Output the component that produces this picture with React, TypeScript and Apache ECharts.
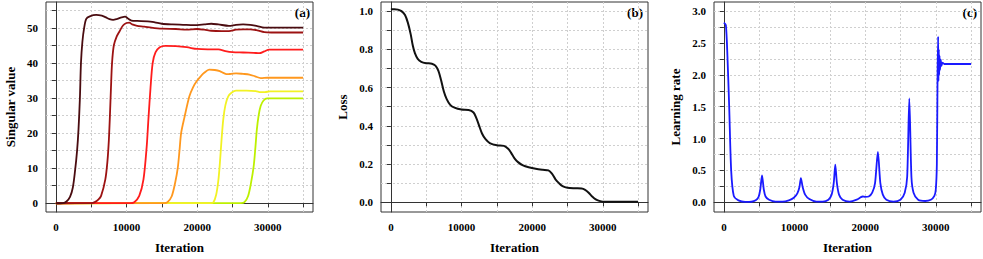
import { useEffect, useRef } from "react";
import * as echarts from "echarts";

// ---------- tick values ----------
const iterLabelTicks = [0, 10000, 20000, 30000];
const iterAllTicks = [0, 5000, 10000, 15000, 20000, 25000, 30000, 35000];
const svLabelTicks = [0, 10, 20, 30, 40, 50];
const svAllTicks = [0, 5, 10, 15, 20, 25, 30, 35, 40, 45, 50, 55];
const lossLabelTicks = [0, 0.2, 0.4, 0.6, 0.8, 1.0];
const lossAllTicks = [0, 0.1, 0.2, 0.3, 0.4, 0.5, 0.6, 0.7, 0.8, 0.9, 1.0];
const lrLabelTicks = [0, 0.5, 1.0, 1.5, 2.0, 2.5, 3.0];
const lrAllTicks = [0, 0.25, 0.5, 0.75, 1.0, 1.25, 1.5, 1.75, 2.0, 2.25, 2.5, 2.75, 3.0];

// ---------- (a) singular values ----------
const sv1 = [
  [0, 0], [1000, 0.05], [1500, 0.5], [2000, 1.8], [2400, 4.5], [2700, 9], [3000, 15], [3200, 21],
  [3400, 30], [3550, 40], [3750, 46], [4000, 50], [4300, 52.6], [4800, 53.3], [5700, 53.7],
  [6500, 53.5], [7000, 53.1], [7600, 52.5], [8100, 52.3], [8700, 52.6], [9300, 53], [9800, 53.2],
  [10200, 52.7], [10700, 52.1], [11500, 52], [13000, 51.9], [14000, 51.6], [15000, 51.2],
  [16500, 51], [18000, 50.9], [19500, 50.8], [21000, 51], [22000, 51.2], [23000, 51.0],
  [24500, 50.6], [25500, 50.9], [26500, 51.0], [27500, 50.9], [28500, 50.5], [29500, 50.1],
  [30500, 50.1], [35000, 50.1],
];
const sv2 = [
  [0, 0], [5000, 0.02], [5500, 0.3], [6000, 1], [6400, 2.1], [7000, 6.8], [7300, 12], [7500, 18],
  [7650, 25], [7800, 33], [7950, 40], [8200, 45], [8600, 47.5], [9000, 49], [9500, 50.7],
  [10000, 51.4], [10400, 51.5], [10800, 51], [11500, 50.6], [12500, 50.4], [13500, 50.1],
  [15000, 49.8], [17000, 49.7], [18500, 49.5], [20000, 49.7], [21000, 49.5], [22000, 49.2],
  [23500, 49.1], [24500, 49.1], [25500, 49.5], [26500, 49.6], [27500, 49.6], [28500, 49.3],
  [29500, 48.8], [30500, 48.7], [35000, 48.7],
];
const sv3 = [
  [0, 0], [10500, 0.02], [11100, 0.3], [11800, 2.1], [12400, 6.8], [12850, 16], [13100, 24],
  [13400, 33], [13700, 40], [14100, 43], [14700, 44.5], [15500, 44.9], [17000, 44.8],
  [18500, 44.5], [20000, 44], [21500, 43.9], [23000, 43.9], [24000, 43.4], [25000, 43.1],
  [26500, 43], [28000, 42.9], [28800, 42.8], [29500, 43.3], [30200, 43.8], [35000, 43.8],
];
const sv4 = [
  [0, 0], [15300, 0.02], [15800, 0.3], [16400, 2], [16900, 6], [17250, 10], [17500, 15],
  [17730, 20], [18200, 24.5], [18900, 30.5], [19400, 33], [19900, 34.7], [20500, 36.2],
  [21000, 37.2], [21700, 38.1], [22500, 38], [23200, 37.7], [23800, 37.1], [24300, 36.8],
  [24800, 36.9], [25500, 37.05], [26500, 36.9], [27400, 36.7], [28200, 36.2], [29000, 35.7],
  [30000, 35.8], [35000, 35.8],
];
const sv5 = [
  [0, 0], [21800, 0.02], [22300, 0.3], [22700, 2.5], [23000, 6.5], [23200, 11], [23450, 18],
  [23700, 24], [24000, 28], [24400, 30.5], [24900, 31.6], [25500, 32.1], [27000, 32.1],
  [28300, 32], [29000, 31.7], [29600, 31.7], [30300, 31.9], [35000, 31.9],
];
const sv6 = [
  [0, 0], [26200, 0.02], [26700, 0.3], [27200, 2], [27600, 5.5], [28000, 10.5], [28250, 16],
  [28450, 21], [28700, 25], [29000, 27.8], [29400, 29.3], [29900, 29.9], [35000, 29.9],
];
const svSeries = [sv1, sv2, sv3, sv4, sv5, sv6];
const svColors = ["#4a0c10", "#9c1212", "#ff1c1c", "#ff981e", "#f2f224", "#bdf000"];

// ---------- (b) loss ----------
const loss = [
  [0, 1.01], [500, 1.01], [1000, 1.008], [1500, 1.0], [2000, 0.98], [2400, 0.94], [2800, 0.88],
  [3100, 0.82], [3400, 0.78], [3800, 0.75], [4300, 0.735], [5000, 0.728], [5800, 0.725],
  [6300, 0.715], [6700, 0.69], [7100, 0.64], [7500, 0.58], [7900, 0.54], [8400, 0.51],
  [9000, 0.495], [10000, 0.485], [11000, 0.483], [11700, 0.47], [12100, 0.44], [12500, 0.4],
  [12900, 0.36], [13400, 0.33], [14000, 0.31], [15000, 0.298], [16000, 0.295], [16600, 0.28],
  [17000, 0.26], [17500, 0.23], [18000, 0.21], [18700, 0.193], [19500, 0.183], [20500, 0.175],
  [21500, 0.17], [22300, 0.167], [22800, 0.15], [23300, 0.12], [23800, 0.1], [24300, 0.085],
  [25000, 0.076], [26000, 0.073], [27000, 0.072], [27500, 0.065], [28000, 0.05], [28500, 0.03],
  [29000, 0.015], [29500, 0.007], [30000, 0.003], [35000, 0.003],
];

// ---------- (c) learning rate ----------
const lr = [
  [0, 2.82], [280, 2.78], [500, 2.3], [750, 1.5], [1030, 0.5], [1400, 0.1], [2060, 0.03],
  [3000, 0.005], [3900, 0.008], [4500, 0.03], [4900, 0.08], [5150, 0.2], [5400, 0.42],
  [5650, 0.2], [5900, 0.09], [6400, 0.04], [7300, 0.01], [8300, 0.01], [9200, 0.03],
  [9900, 0.07], [10400, 0.14], [10700, 0.24], [10900, 0.38], [11150, 0.24], [11500, 0.12],
  [12100, 0.05], [13100, 0.01], [14000, 0.01], [14800, 0.04], [15250, 0.12], [15550, 0.3],
  [15770, 0.59], [16000, 0.3], [16300, 0.12], [16800, 0.04], [17800, 0.01], [18800, 0.04],
  [19400, 0.08], [19650, 0.09], [20000, 0.085], [20500, 0.09], [21000, 0.15], [21400, 0.3],
  [21800, 0.79], [22150, 0.3], [22500, 0.12], [23000, 0.04], [24000, 0.01], [25000, 0.04],
  [25600, 0.15], [25950, 0.4], [26250, 1.63], [26550, 0.4], [26850, 0.15], [27500, 0.04],
  [28500, 0.02], [29300, 0.04], [29800, 0.1], [30000, 0.2], [30150, 0.6], [30250, 2.0],
  [30330, 2.6], [30380, 1.9], [30430, 2.4], [30480, 2.0], [30530, 2.3], [30600, 2.08],
  [30700, 2.24], [30800, 2.14], [30950, 2.19], [31200, 2.17], [35000, 2.17],
];

const FONT = '"Liberation Serif", "Times New Roman", serif';
const AXIS_COLOR = "#333";

function xAxisFor(gridIndex: number) {
  return {
    type: "value",
    gridIndex,
    min: -1400,
    max: 36400,
    axisLine: { show: true, lineStyle: { color: AXIS_COLOR, width: 1 } },
    axisTick: { show: true, inside: false, length: 4, customValues: iterAllTicks, lineStyle: { color: AXIS_COLOR } },
    axisLabel: {
      customValues: iterLabelTicks,
      formatter: (v: number) => String(v),
      color: "#000",
      fontFamily: FONT,
      fontWeight: "bold",
      fontSize: 11,
      margin: 9,
    },
    splitLine: { show: true, lineStyle: { color: "#cfcfcf", type: [2, 2], width: 1 } },
    name: "Iteration",
    nameLocation: "middle",
    nameGap: 29,
    nameTextStyle: { color: "#000", fontFamily: FONT, fontWeight: "bold", fontSize: 13 },
  };
}

function yAxisFor(gridIndex: number, min: number, max: number, all: number[], labels: number[], digits: number, name: string, nameGap: number) {
  return {
    type: "value",
    gridIndex,
    min,
    max,
    axisLine: { show: true, lineStyle: { color: AXIS_COLOR, width: 1 } },
    axisTick: { show: true, inside: false, length: 4, customValues: all, lineStyle: { color: AXIS_COLOR } },
    axisLabel: {
      customValues: labels,
      formatter: (v: number) => v.toFixed(digits),
      color: "#000",
      fontFamily: FONT,
      fontWeight: "bold",
      fontSize: 11,
      margin: 8,
    },
    splitLine: { show: true, lineStyle: { color: "#cfcfcf", type: [2, 2], width: 1 } },
    name,
    nameLocation: "middle",
    nameGap,
    nameTextStyle: { color: "#000", fontFamily: FONT, fontWeight: "bold", fontSize: 13 },
  };
}

export default function App() {
  const ref = useRef<HTMLDivElement>(null);
  useEffect(() => {
    if (!ref.current) return;
    const chart = echarts.init(ref.current, null, { renderer: "svg" });
    const gridBase = { top: 2, height: 215, width: 267, show: true, borderColor: AXIS_COLOR, borderWidth: 1, backgroundColor: "transparent", containLabel: false };
    const svSeriesOpts = svSeries
      .map((d, i) => ({
        type: "line",
        xAxisIndex: 0,
        yAxisIndex: 0,
        data: d,
        showSymbol: false,
        smooth: 0.3,
        lineStyle: { color: svColors[i], width: 1.8 },
        z: 10 - i,
      }))
      .reverse();
    chart.setOption({
      animation: false,
      backgroundColor: "#fff",
      grid: [
        { ...gridBase, left: 46 },
        { ...gridBase, left: 381 },
        { ...gridBase, left: 714 },
      ],
      xAxis: [xAxisFor(0), xAxisFor(1), xAxisFor(2)],
      yAxis: [
        yAxisFor(0, -2.5, 57.4, svAllTicks, svLabelTicks, 0, "Singular value", 29.5),
        yAxisFor(1, -0.051, 1.048, lossAllTicks, lossLabelTicks, 1, "Loss", 32.5),
        yAxisFor(2, -0.153, 3.143, lrAllTicks, lrLabelTicks, 1, "Learning rate", 32.5),
      ],
      series: [
        ...svSeriesOpts,
        {
          type: "line",
          xAxisIndex: 1,
          yAxisIndex: 1,
          data: loss,
          showSymbol: false,
          smooth: 0.3,
          lineStyle: { color: "#111", width: 2 },
        },
        {
          type: "line",
          xAxisIndex: 2,
          yAxisIndex: 2,
          data: lr,
          showSymbol: false,
          smooth: 0.25,
          lineStyle: { color: "#1a1aff", width: 1.8 },
        },
      ],
      graphic: [
        { type: "text", right: 983 - 310, top: 6, style: { text: "(a)", fill: "#000", font: `bold 13px ${FONT}` } },
        { type: "text", right: 983 - 643, top: 6, style: { text: "(b)", fill: "#000", font: `bold 13px ${FONT}` } },
        { type: "text", right: 983 - 977, top: 6, style: { text: "(c)", fill: "#000", font: `bold 13px ${FONT}` } },
      ],
    });
    return () => chart.dispose();
  }, []);
  return <div ref={ref} style={{ position: "fixed", left: 0, top: 0, width: 983, height: 259, background: "#fff" }} />;
}
